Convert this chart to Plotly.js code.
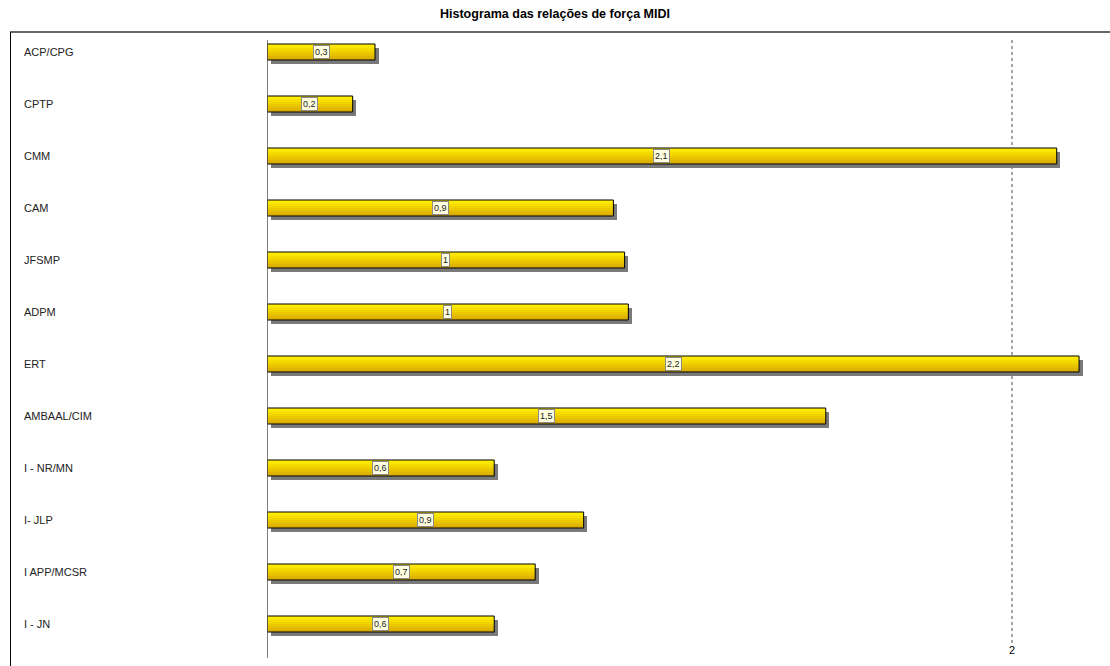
<!DOCTYPE html>
<html>
<head>
<meta charset="utf-8">
<script src="https://cdn.plot.ly/plotly-3.0.1.min.js"></script>
<style>html,body{margin:0;padding:0;background:#fff;}#chart{width:1110px;height:666px;}</style>
</head>
<body>
<div id="chart"></div>
<script>
const categories = ["ACP/CPG","CPTP","CMM","CAM","JFSMP","ADPM","ERT","AMBAAL/CIM","I - NR/MN","I- JLP","I APP/MCSR","I - JN"];
const values = [0.29, 0.23, 2.12, 0.93, 0.96, 0.97, 2.18, 1.5, 0.61, 0.85, 0.72, 0.61];
const valueLabels = ["0,3","0,2","2,1","0,9","1","1","2,2","1,5","0,6","0,9","0,7","0,6"];
const refLine = 2;
const titleText = "Histograma das relações de força MIDI";
const gradientColors = ["#FFEE00","#FBE600","#F6DD00","#F1D300","#EBC900","#E5BF00","#DFB500","#D9AC04"];

const W = 1110, H = 666;
const x0px = 267, pxPerUnit = 372.5;
const xMax = (W - x0px) / pxPerUnit;
const rowPx = 52, yTopPx = 26, yBotPx = yTopPx + rowPx * categories.length;
const barW = 16 / rowPx;
const shadowDx = 3.5 / pxPerUnit, shadowDy = 4 / rowPx;
const idx = categories.map((c, i) => i);

const traces = [];
traces.push({
  type: 'bar', orientation: 'h', y: idx, x: values, base: shadowDx,
  width: barW, offset: -barW / 2 + shadowDy,
  marker: {color: '#7a7a7a', line: {width: 0}}, hoverinfo: 'skip', showlegend: false
});
const nStrips = gradientColors.length;
const stripW = barW / nStrips;
gradientColors.forEach((col, k) => {
  traces.push({
    type: 'bar', orientation: 'h', y: idx, x: values,
    width: stripW + 0.002, offset: -barW / 2 + k * stripW,
    marker: {color: col, line: {width: 0}}, hoverinfo: 'skip', showlegend: false
  });
});
traces.push({
  type: 'bar', orientation: 'h', y: idx, x: values,
  width: barW, offset: -barW / 2,
  marker: {color: 'rgba(0,0,0,0)', line: {color: '#000', width: 1}}, showlegend: false,
  hovertemplate: '%{x}<extra></extra>'
});

const annotations = [];
categories.forEach((c, i) => {
  annotations.push({xref: 'paper', yref: 'y', x: 22 / W, y: i, xanchor: 'left', yanchor: 'middle',
    text: c, showarrow: false, font: {family: 'Liberation Sans, Arial', size: 11, color: '#222'}});
  annotations.push({xref: 'x', yref: 'y', x: values[i] / 2, y: i, xanchor: 'center', yanchor: 'middle',
    text: valueLabels[i], showarrow: false, bgcolor: '#FFFFE0', bordercolor: '#8a8a8a', borderwidth: 1, borderpad: 1,
    font: {family: 'Liberation Sans, Arial', size: 9, color: '#222'}});
});
annotations.push({xref: 'x', yref: 'paper', x: refLine, y: 1 - 650 / H, xanchor: 'center', yanchor: 'middle',
  text: String(refLine), showarrow: false, font: {family: 'Liberation Sans, Arial', size: 11, color: '#000'}});
annotations.push({xref: 'paper', yref: 'paper', x: 555 / W, y: 1 - 14 / H, xanchor: 'center', yanchor: 'middle',
  text: titleText, showarrow: false, font: {family: 'Liberation Sans, Arial', size: 12.5, color: '#000', weight: 'bold'}});

const shapes = [
  {type: 'line', xref: 'paper', yref: 'paper', x0: 10 / W, x1: 1, y0: 1 - 32 / H, y1: 1 - 32 / H, line: {color: '#666', width: 2}},
  {type: 'line', xref: 'paper', yref: 'paper', x0: 10.5 / W, x1: 10.5 / W, y0: 1 - 32 / H, y1: 0, line: {color: '#000', width: 1}},
  {type: 'line', xref: 'x', yref: 'paper', x0: 0, x1: 0, y0: 1 - 40 / H, y1: 1 - 658 / H, line: {color: '#555', width: 1.5}, layer: 'above'},
  {type: 'line', xref: 'x', yref: 'paper', x0: refLine, x1: refLine, y0: 1 - 40 / H, y1: 1 - 643 / H, line: {color: '#888', width: 1.5, dash: 'dot'}, layer: 'below'}
];

const layout = {
  width: W, height: H, margin: {l: 0, r: 0, t: 0, b: 0},
  paper_bgcolor: '#fff', plot_bgcolor: 'rgba(0,0,0,0)', barmode: 'overlay', bargap: 0,
  xaxis: {domain: [x0px / W, 1], range: [0, xMax], showgrid: false, zeroline: false, showticklabels: false, showline: false, ticks: '', fixedrange: true},
  yaxis: {domain: [1 - yBotPx / H, 1 - yTopPx / H], range: [categories.length - 0.5, -0.5], showgrid: false, zeroline: false, showticklabels: false, showline: false, ticks: '', fixedrange: true},
  annotations: annotations, shapes: shapes, showlegend: false
};

Plotly.newPlot('chart', traces, layout, {displayModeBar: false, staticPlot: true});
</script>
</body>
</html>
